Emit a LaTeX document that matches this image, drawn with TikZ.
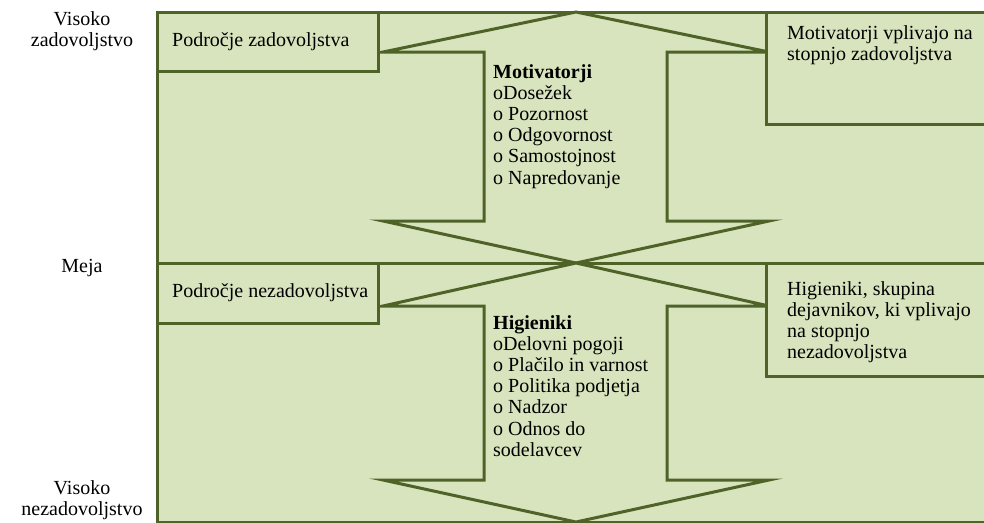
\documentclass[tikz,border=0pt]{standalone}
\usepackage{fontspec}
\setmainfont{Liberation Serif}
\usetikzlibrary{positioning}
\definecolor{olivefill}{HTML}{D7E4BD}
\definecolor{oliveline}{HTML}{4F6228}

\begin{document}
\begin{tikzpicture}[x=1pt,y=-1pt,font=\fontsize{20}{21.2}\selectfont]
	\tikzset{panel/.style={draw=oliveline, line width=3pt, fill=olivefill, line join=miter}}
	\tikzset{txt/.style={inner sep=0pt, align=left, anchor=north west}}
	\tikzset{sidetxt/.style={inner sep=0pt, align=center}}
	\useasboundingbox (0,0) rectangle (984,522);
	\clip (0,0) rectangle (984,522);
	% the two halves
	\draw[panel] (157,12) rectangle (995,263);
	\draw[panel] (157,263) rectangle (995,522);
	% double arrows
	\draw[panel] (576,12) -- (769,52) -- (667,52) -- (667,221) -- (769,221) -- (576,263)
		-- (383,221) -- (484,221) -- (484,52) -- (383,52) -- cycle;
	\draw[panel] (576,263) -- (769,306) -- (667,306) -- (667,480) -- (769,480) -- (576,522)
		-- (383,480) -- (484,480) -- (484,306) -- (383,306) -- cycle;
	% boxes
	\draw[panel] (157,12) rectangle (378,71);
	\draw[panel] (157,263) rectangle (378,323);
	\draw[panel] (766,12) rectangle (995,124);
	\draw[panel] (766,263) rectangle (995,376);
	\node[txt, anchor=west] (podzad) at (172,42) {Področje zadovoljstva};
	\node[txt, anchor=west] (podnezad) at (172,293) {Področje nezadovoljstva};
	\node[txt] (motvpliv) at (787,25) {Motivatorji vplivajo na\\stopnjo zadovoljstva};
	\node[txt] (higvpliv) at (787,281) {Higieniki, skupina\\dejavnikov, ki vplivajo\\na stopnjo\\nezadovoljstva};
	\node[txt] (motiv) at (493,64) {\textbf{Motivatorji}\\oDosežek\\o Pozornost\\o Odgovornost\\o Samostojnost\\o Napredovanje};
	\node[txt] (higien) at (493,315) {\textbf{Higieniki}\\oDelovni pogoji\\o Plačilo in varnost\\o Politika podjetja\\o Nadzor\\o Odnos do\\sodelavcev};
	% scale labels
	\node[sidetxt] (viszad) at (82,31) {Visoko\\zadovoljstvo};
	\node[sidetxt] (meja) at (82,268) {Meja};
	\node[sidetxt] (visnezad) at (82,500) {Visoko\\nezadovoljstvo};
\end{tikzpicture}
\end{document}
